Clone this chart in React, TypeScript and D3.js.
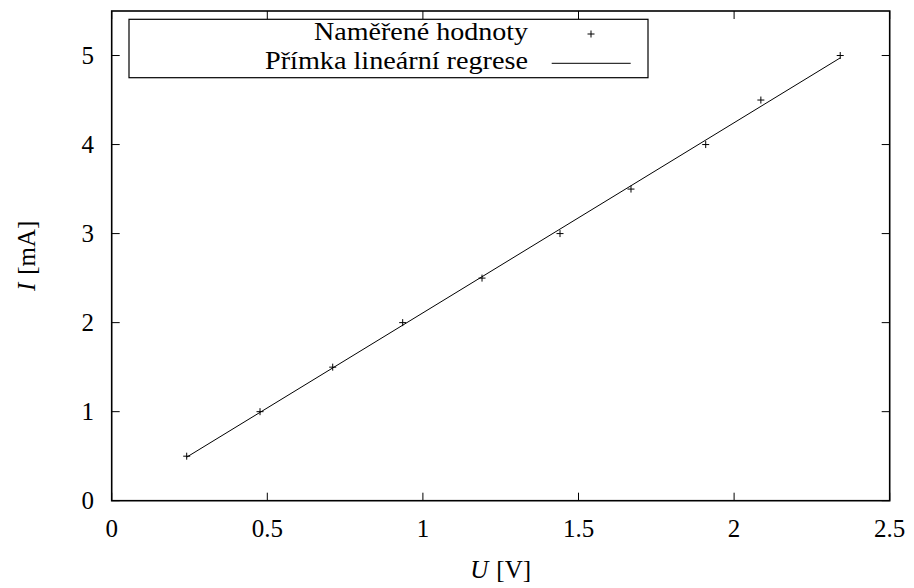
import React, { useEffect, useRef } from "react";
import * as d3 from "d3";

const voltage = [0.241, 0.4766, 0.7102, 0.935, 1.19, 1.4406, 1.6687, 1.9088, 2.086, 2.341];
const current = [0.5, 1.0, 1.5, 2.0, 2.5, 3.0, 3.5, 4.0, 4.5, 5.0];
const xTicks = [0, 0.5, 1, 1.5, 2, 2.5];
const yTicks = [0, 1, 2, 3, 4, 5];
const legendLabels = ["Naměřené hodnoty", "Přímka lineární regrese"];

const W = 914;
const H = 588;
const M = { left: 111.7, right: 889.7, top: 11, bottom: 500.7 };
const FONT = "'Liberation Serif', 'Times New Roman', serif";

export default function App() {
  const ref = useRef<SVGSVGElement | null>(null);

  useEffect(() => {
    const svg = d3.select(ref.current);
    svg.selectAll("*").remove();

    const x = d3.scaleLinear().domain([0, 2.5]).range([M.left, M.right]);
    const y = d3.scaleLinear().domain([0, 5.5]).range([M.bottom, M.top]);

    const data = voltage.map((v, i) => ({ u: v, i: current[i] }));

    // least squares fit
    const mx = d3.mean(voltage)!;
    const my = d3.mean(current)!;
    let sxy = 0, sxx = 0;
    data.forEach((d) => {
      sxy += (d.u - mx) * (d.i - my);
      sxx += (d.u - mx) * (d.u - mx);
    });
    const slope = sxy / sxx;
    const intercept = my - slope * mx;
    const [xmin, xmax] = d3.extent(voltage) as [number, number];
    const fitPts: [number, number][] = [
      [xmin, intercept + slope * xmin],
      [xmax, intercept + slope * xmax],
    ];

    const tickLen = 8;
    const g = svg.append("g");

    // ticks on all sides
    xTicks.forEach((t) => {
      g.append("line").attr("x1", x(t)).attr("x2", x(t)).attr("y1", M.bottom).attr("y2", M.bottom - tickLen)
        .attr("stroke", "#000").attr("stroke-width", 1);
      g.append("line").attr("x1", x(t)).attr("x2", x(t)).attr("y1", M.top).attr("y2", M.top + tickLen)
        .attr("stroke", "#000").attr("stroke-width", 1);
      g.append("text").attr("x", x(t)).attr("y", 537).attr("text-anchor", "middle")
        .attr("font-family", FONT).attr("font-size", 25).text(String(t));
    });
    yTicks.forEach((t) => {
      g.append("line").attr("x1", M.left).attr("x2", M.left + tickLen).attr("y1", y(t)).attr("y2", y(t))
        .attr("stroke", "#000").attr("stroke-width", 1);
      g.append("line").attr("x1", M.right).attr("x2", M.right - tickLen).attr("y1", y(t)).attr("y2", y(t))
        .attr("stroke", "#000").attr("stroke-width", 1);
      g.append("text").attr("x", 94).attr("y", y(t) + 8.5).attr("text-anchor", "end")
        .attr("font-family", FONT).attr("font-size", 25).text(String(t));
    });

    // border
    g.append("rect").attr("x", M.left).attr("y", M.top).attr("width", M.right - M.left)
      .attr("height", M.bottom - M.top).attr("fill", "none").attr("stroke", "#000").attr("stroke-width", 1.6);

    // legend
    g.append("rect").attr("x", 129).attr("y", 19.3).attr("width", 648 - 129).attr("height", 77.7 - 19.3)
      .attr("fill", "#fff").attr("stroke", "#000").attr("stroke-width", 1.2);
    g.append("text").attr("x", 528).attr("y", 40).attr("text-anchor", "end")
      .attr("font-family", FONT).attr("font-size", 25)
      .attr("textLength", 214).attr("lengthAdjust", "spacingAndGlyphs").text(legendLabels[0]);
    g.append("text").attr("x", 528).attr("y", 68.5).attr("text-anchor", "end")
      .attr("font-family", FONT).attr("font-size", 25)
      .attr("textLength", 263).attr("lengthAdjust", "spacingAndGlyphs").text(legendLabels[1]);
    const ps = 3.5;
    g.append("path").attr("d", `M${591 - ps},34H${591 + ps}M591,${34 - ps}V${34 + ps}`)
      .attr("stroke", "#000").attr("stroke-width", 1);
    g.append("line").attr("x1", 551.7).attr("x2", 630.7).attr("y1", 63.3).attr("y2", 63.3)
      .attr("stroke", "#000").attr("stroke-width", 1);

    // fit line
    g.append("path").datum(fitPts)
      .attr("d", d3.line<[number, number]>().x((d) => x(d[0])).y((d) => y(d[1])))
      .attr("fill", "none").attr("stroke", "#000").attr("stroke-width", 1);

    // points
    g.selectAll("path.pt").data(data).enter().append("path").attr("class", "pt")
      .attr("d", (d) => {
        const px = x(d.u), py = y(d.i);
        return `M${px - ps},${py}H${px + ps}M${px},${py - ps}V${py + ps}`;
      })
      .attr("stroke", "#000").attr("stroke-width", 1);

    // axis labels
    const xl = g.append("text").attr("x", 500.7).attr("y", 578).attr("text-anchor", "middle")
      .attr("font-family", FONT).attr("font-size", 25);
    xl.append("tspan").attr("font-style", "italic").text("U");
    xl.append("tspan").attr("dx", 8).text("[V]");

    const yl = g.append("text").attr("transform", `translate(35,${(M.top + M.bottom) / 2}) rotate(-90)`)
      .attr("text-anchor", "middle").attr("font-family", FONT).attr("font-size", 25);
    yl.append("tspan").attr("font-style", "italic").text("I");
    yl.append("tspan").attr("dx", 8).text("[mA]");
  }, []);

  return (
    <svg ref={ref} width={W} height={H} style={{ position: "absolute", left: 0, top: 0, background: "#fff" }} />
  );
}
